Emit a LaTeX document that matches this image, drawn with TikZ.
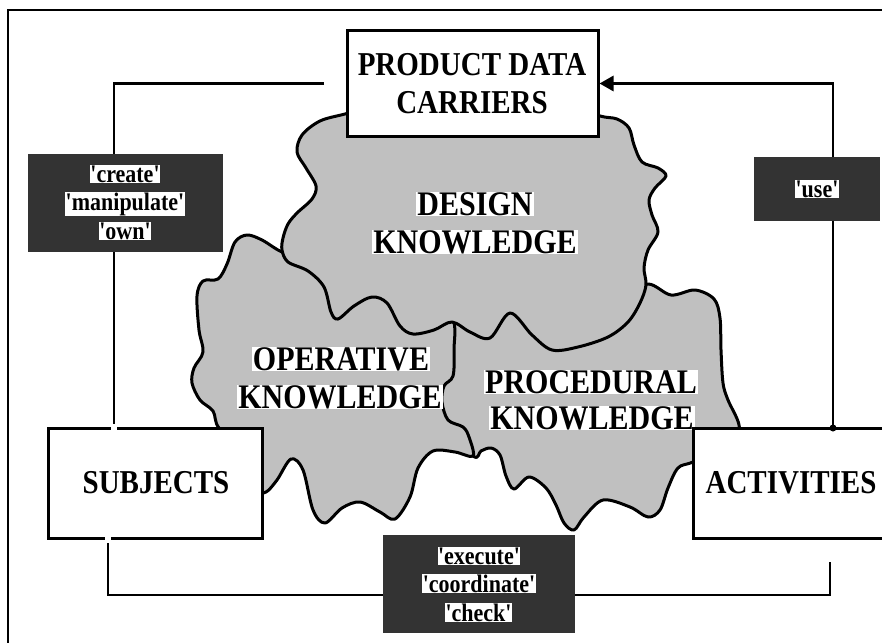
\documentclass[tikz,border=0pt]{standalone}
\usepackage{fontspec}
\setmainfont{Liberation Serif}
\usetikzlibrary{arrows.meta}
\definecolor{blobgray}{HTML}{C0C0C0}
\definecolor{labelgray}{HTML}{333333}
\newcommand\vsc[1]{\scalebox{1}[1.15]{#1}}
\newcommand\qq{\textquotesingle}
\begin{document}
\begin{tikzpicture}[x=1pt,y=-1pt,
 conn/.style={line width=2.8pt},
 blob/.style={fill=blobgray, draw=black, line width=3pt, line join=round},
 whitebox/.style={draw, fill=white, line width=3pt, outer sep=0pt, inner sep=0pt},
 labelbox/.style={fill=labelgray, draw=none, inner sep=0pt, outer sep=0pt},
 bigtxt/.style={font=\fontsize{29}{35}\selectfont\bfseries, inner sep=0pt, anchor=base},
 hltxt/.style={font=\fontsize{30}{35}\selectfont\bfseries, fill=white, inner xsep=1pt, inner ysep=0.5pt, anchor=base},
 smalltxt/.style={font=\fontsize{22}{26}\selectfont\bfseries, fill=white, inner xsep=0.5pt, inner ysep=0.5pt, anchor=base},
]
\useasboundingbox (0,0) rectangle (882,642);
\fill[white] (0,0) rectangle (882,642);
% frame
\draw[line width=2pt] (8,650) -- (8,10) -- (890,10);

% blobs
\path[blob] plot[smooth cycle, tension=0.55] coordinates {
 (473,456) (481,451) (491,448) (500,455) (506,476) (514,489) (529,477) (546,488)
 (556,505) (564,523) (574,530) (584,517) (603,500) (630,507) (648,517) (660,510)
 (668,488) (678,468) (693,462) (735,445) (739,425) (728,400) (723,383) (721,350)
 (720,318) (714,299) (695,290) (671,295) (648,284) (620,295) (540,305) (470,312)
 (445,335) (440,420)};
\path[blob] plot[smooth cycle, tension=0.55] coordinates {
 (282,252) (262,240) (247,235) (235,242) (227,264) (218,279) (203,281) (197,296)
 (199,330) (203,352) (194,368) (192,383) (200,400) (213,411) (219,428) (245,450)
 (258,488) (266,492) (277,480) (291,459) (303,470) (313,510) (325,523) (342,508)
 (360,502) (380,512) (395,519) (410,497) (418,468) (433,451) (455,452) (473,456)
 (469,437) (463,427) (448,420) (442,402) (444,386) (453,376) (454,350) (452,318)
 (420,300) (360,282) (305,258)};
\path[blob] plot[smooth cycle, tension=0.55] coordinates {
 (570,105) (600,116) (617,119) (629,128) (634,145) (642,162) (658,168) (666,176)
 (655,188) (649,200) (652,215) (658,232) (648,250) (644,268) (646,285) (640,303)
 (628,322) (608,337) (578,347) (552,350) (532,335) (510,313) (490,338) (470,332)
 (452,322) (434,330) (413,334) (400,326) (387,303) (372,297) (354,306) (338,319)
 (331,312) (324,287) (308,271) (288,262) (282,250) (283,238) (288,224) (297,213)
 (312,199) (316,186) (306,168) (297,152) (302,135) (320,121) (345,114) (380,105)
 (470,95)};

% blob texts
\node[hltxt] (dk1) at (475,215) {\vsc{DESIGN}};
\node[hltxt] (dk2) at (475,253) {\vsc{KNOWLEDGE}};
\node[hltxt] (ok1) at (341,370) {\vsc{OPERATIVE}};
\node[hltxt] (ok2) at (340,408) {\vsc{KNOWLEDGE}};
\node[hltxt] (pk1) at (591,393) {\vsc{PROCEDURAL}};
\node[hltxt] (pk2) at (592,429) {\vsc{KNOWLEDGE}};

% main boxes (geometry)
\node[whitebox, minimum width=251pt, minimum height=105pt] (pdc) at (472.5,83.5) {};
\node[whitebox, minimum width=214pt, minimum height=110pt] (subj) at (155,483) {};
\node[whitebox, minimum width=196pt, minimum height=110pt] (act) at (791,483) {};

% connectors
\draw[conn, shorten <=23pt, shorten >=4pt] (pdc.west) -| ([xshift=-41pt]subj.north);
\draw[conn, shorten >=1.5pt, -{Triangle[length=14pt,width=15pt]}] ([xshift=42pt]act.north) |- (pdc.east);
\fill ([xshift=42pt]act.north) circle[radius=3.5pt];
\coordinate (botc) at (480,595);
\draw[conn, shorten <=5pt, shorten >=24pt] ([xshift=-47pt]subj.south) |- (botc) -| ([xshift=39pt]act.south);

% notches in SUBJECTS border
\fill[white] ([xshift=-44pt]subj.north) ++(0,-2) rectangle ++(6,5);
\fill[white] ([xshift=-50pt]subj.south) ++(0,-2) rectangle ++(6,5);

% box texts
\node[bigtxt] (pdct1) at (472,75) {\vsc{PRODUCT DATA}};
\node[bigtxt] (pdct2) at (472,113) {\vsc{CARRIERS}};
\node[bigtxt] (subjt) at (156,493) {\vsc{SUBJECTS}};
\node[bigtxt] (actt) at (791,493) {\vsc{ACTIVITIES}};

% label boxes
\node[labelbox, minimum width=195pt, minimum height=98pt] (cbox) at (125.5,203) {};
\node[labelbox, minimum width=126pt, minimum height=64pt] (ubox) at (817,189) {};
\node[labelbox, minimum width=192pt, minimum height=98pt] (ebox) at (479,584) {};

\node[smalltxt] (c1) at (125,182) {\vsc{\qq create\qq}};
\node[smalltxt] (c2) at (125,210.5) {\vsc{\qq manipulate\qq}};
\node[smalltxt] (c3) at (125,239) {\vsc{\qq own\qq}};
\node[smalltxt] (u1) at (817,197) {\vsc{\qq use\qq}};
\node[smalltxt] (e1) at (479,564) {\vsc{\qq execute\qq}};
\node[smalltxt] (e2) at (479,592.5) {\vsc{\qq coordinate\qq}};
\node[smalltxt] (e3) at (478.5,621) {\vsc{\qq check\qq}};
\end{tikzpicture}
\end{document}
